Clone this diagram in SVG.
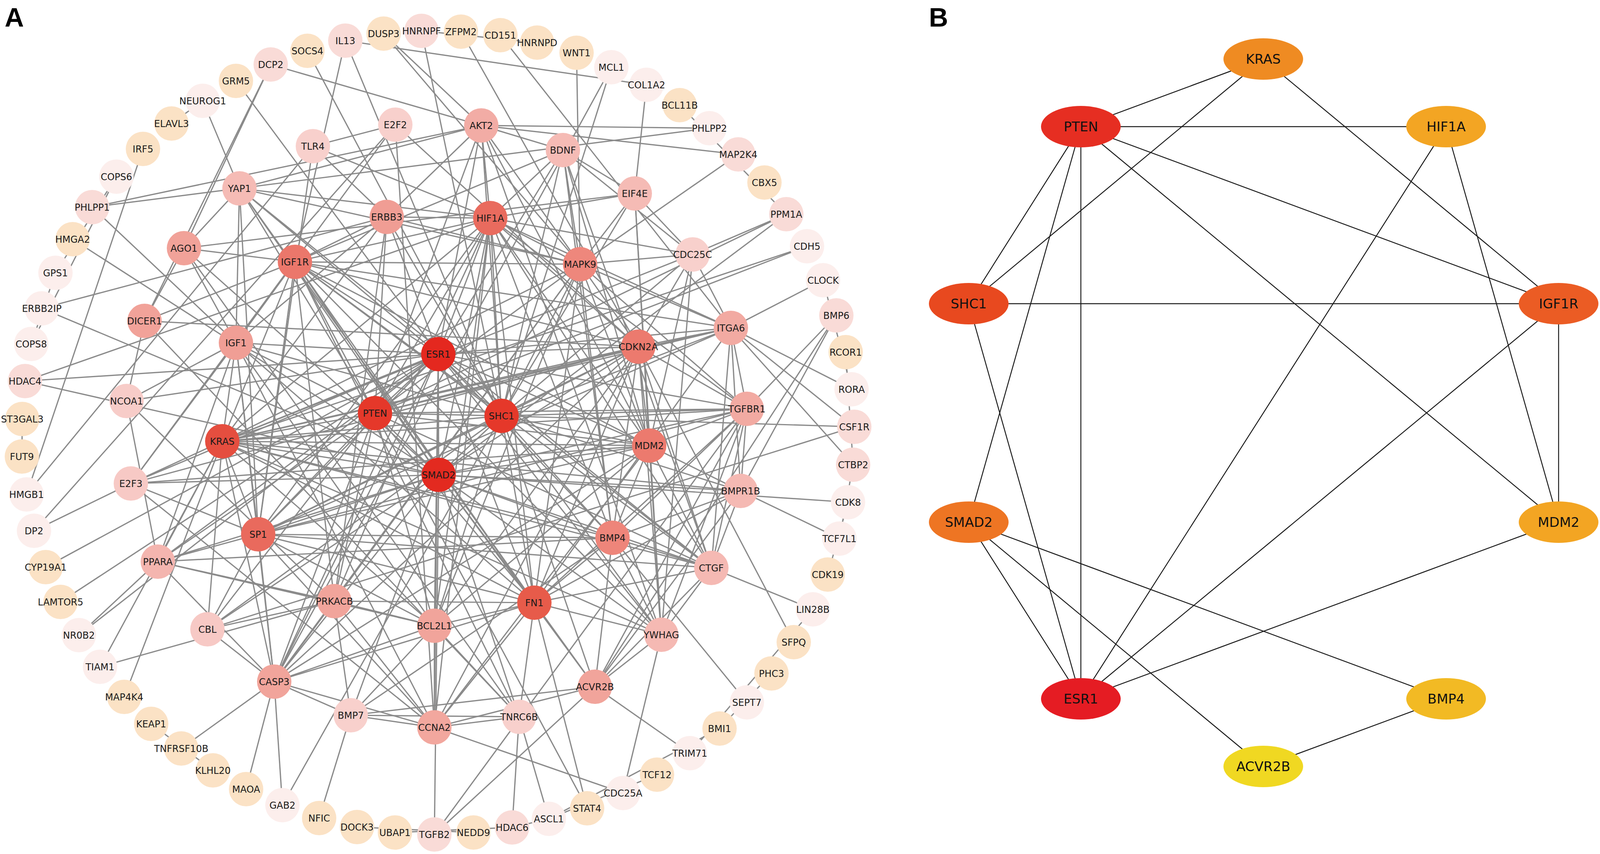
<svg xmlns="http://www.w3.org/2000/svg" width="4317" height="2185" viewBox="0 0 4317 2185">
<style>
.bg{fill:#ffffff}
.ea line{stroke:#8a8a8a;stroke-width:3.2}
.eb line{stroke:#1a1a1a;stroke-width:2.4}
.na text{font-family:"DejaVu Sans",Verdana,sans-serif;font-size:24px;text-anchor:middle;fill:#1a1a1a}
.nb text{font-family:"DejaVu Sans",Verdana,sans-serif;font-size:34px;text-anchor:middle;fill:#111}
.q{fill:#FBE2C5}.v{fill:#FCEEEC}.l{fill:#F9DBD7}
.lab{font-family:"Liberation Sans",Arial,sans-serif;font-weight:bold;font-size:68px;fill:#000}
</style>
<rect class="bg" x="0" y="0" width="4317" height="2185"/>
<text class="lab" x="12" y="68">A</text>
<text class="lab" x="2378" y="68">B</text>
<g id="connectors-A" class="ea">
<line x1="298" y1="452" x2="142" y2="698"/>
<line x1="298" y1="452" x2="80" y2="880"/>
<line x1="142" y1="698" x2="80" y2="880"/>
<line x1="439" y1="316" x2="519" y2="258"/>
<line x1="56" y1="1168" x2="57" y2="1072"/>
<line x1="387" y1="1852" x2="545" y2="1971"/>
<line x1="914" y1="2116" x2="1212" y2="2130"/>
<line x1="1011" y1="2130" x2="1311" y2="2117"/>
<line x1="1311" y1="2117" x2="1405" y2="2095"/>
<line x1="1405" y1="2095" x2="1682" y2="1982"/>
<line x1="2081" y1="1559" x2="1766" y2="1927"/>
<line x1="1842" y1="1864" x2="1975" y2="1723"/>
<line x1="2171" y1="1285" x2="2119" y2="1470"/>
<line x1="2184" y1="1189" x2="2149" y2="1378"/>
<line x1="2165" y1="901" x2="2184" y2="1189"/>
<line x1="2107" y1="717" x2="2180" y2="996"/>
<line x1="1740" y1="269" x2="2013" y2="548"/>
<line x1="1079" y1="79" x2="1375" y2="109"/>
<line x1="366" y1="381" x2="68" y2="1265"/>
<line x1="884" y1="104" x2="1655" y2="217"/>
<line x1="884" y1="104" x2="755" y2="670"/>
<line x1="884" y1="104" x2="1284" y2="1064"/>
<line x1="693" y1="165" x2="471" y2="635"/>
<line x1="693" y1="165" x2="370" y2="821"/>
<line x1="693" y1="165" x2="1232" y2="321"/>
<line x1="604" y1="207" x2="1122" y2="906"/>
<line x1="519" y1="258" x2="613" y2="482"/>
<line x1="236" y1="530" x2="1816" y2="328"/>
<line x1="236" y1="530" x2="1232" y2="321"/>
<line x1="236" y1="530" x2="604" y2="877"/>
<line x1="186" y1="612" x2="1123" y2="1215"/>
<line x1="107" y1="789" x2="990" y2="555"/>
<line x1="107" y1="789" x2="1123" y2="1215"/>
<line x1="64" y1="975" x2="1122" y2="906"/>
<line x1="64" y1="975" x2="1255" y2="558"/>
<line x1="64" y1="975" x2="1123" y2="1215"/>
<line x1="68" y1="1265" x2="801" y2="374"/>
<line x1="87" y1="1358" x2="1012" y2="319"/>
<line x1="87" y1="1358" x2="335" y2="1237"/>
<line x1="117" y1="1451" x2="1122" y2="906"/>
<line x1="155" y1="1540" x2="1122" y2="906"/>
<line x1="202" y1="1625" x2="404" y2="1437"/>
<line x1="202" y1="1625" x2="1122" y2="906"/>
<line x1="256" y1="1706" x2="569" y2="1129"/>
<line x1="256" y1="1706" x2="856" y2="1538"/>
<line x1="318" y1="1783" x2="569" y2="1129"/>
<line x1="464" y1="1915" x2="702" y2="1744"/>
<line x1="630" y1="2019" x2="702" y2="1744"/>
<line x1="723" y1="2060" x2="702" y2="1744"/>
<line x1="723" y1="2060" x2="1284" y2="1064"/>
<line x1="817" y1="2093" x2="898" y2="1830"/>
<line x1="1112" y1="2135" x2="1123" y2="1215"/>
<line x1="1112" y1="2135" x2="1912" y2="1046"/>
<line x1="1112" y1="2135" x2="1523" y2="1757"/>
<line x1="1311" y1="2117" x2="1329" y2="1834"/>
<line x1="1405" y1="2095" x2="1329" y2="1834"/>
<line x1="1405" y1="2095" x2="1842" y2="1864"/>
<line x1="1503" y1="2068" x2="1368" y2="1542"/>
<line x1="1503" y1="2068" x2="960" y2="1057"/>
<line x1="1595" y1="2029" x2="1693" y2="1624"/>
<line x1="1595" y1="2029" x2="1112" y2="1861"/>
<line x1="1766" y1="1927" x2="1523" y2="1757"/>
<line x1="1912" y1="1797" x2="1568" y2="1376"/>
<line x1="2032" y1="1643" x2="1634" y2="887"/>
<line x1="2081" y1="1559" x2="1821" y2="1453"/>
<line x1="2149" y1="1378" x2="1896" y2="1256"/>
<line x1="2171" y1="1285" x2="1123" y2="1215"/>
<line x1="2184" y1="1189" x2="1871" y2="839"/>
<line x1="2187" y1="1092" x2="1284" y2="1064"/>
<line x1="2187" y1="1092" x2="531" y2="1610"/>
<line x1="2187" y1="1092" x2="1871" y2="839"/>
<line x1="2180" y1="996" x2="1871" y2="839"/>
<line x1="2141" y1="807" x2="1912" y2="1046"/>
<line x1="2141" y1="807" x2="1896" y2="1256"/>
<line x1="2141" y1="807" x2="1523" y2="1757"/>
<line x1="2107" y1="717" x2="1871" y2="839"/>
<line x1="2066" y1="630" x2="960" y2="1057"/>
<line x1="2066" y1="630" x2="569" y2="1129"/>
<line x1="2013" y1="548" x2="1773" y2="651"/>
<line x1="2013" y1="548" x2="1123" y2="1215"/>
<line x1="2013" y1="548" x2="960" y2="1057"/>
<line x1="1890" y1="395" x2="1485" y2="676"/>
<line x1="1890" y1="395" x2="1232" y2="321"/>
<line x1="1816" y1="328" x2="1232" y2="321"/>
<line x1="1655" y1="217" x2="1625" y2="495"/>
<line x1="1565" y1="172" x2="702" y2="1744"/>
<line x1="1565" y1="172" x2="1112" y2="1601"/>
<line x1="1476" y1="135" x2="1485" y2="676"/>
<line x1="1281" y1="90" x2="1871" y2="839"/>
<line x1="1180" y1="81" x2="1634" y2="887"/>
<line x1="1079" y1="79" x2="1284" y2="1064"/>
<line x1="982" y1="86" x2="1232" y2="321"/>
<line x1="982" y1="86" x2="1485" y2="676"/>
<line x1="787" y1="130" x2="1284" y2="1064"/>
<line x1="1122" y1="906" x2="960" y2="1057"/>
<line x1="1122" y1="906" x2="1284" y2="1064"/>
<line x1="1122" y1="906" x2="1123" y2="1215"/>
<line x1="1122" y1="906" x2="569" y2="1129"/>
<line x1="1122" y1="906" x2="755" y2="670"/>
<line x1="1122" y1="906" x2="1255" y2="558"/>
<line x1="1122" y1="906" x2="1662" y2="1140"/>
<line x1="1122" y1="906" x2="1368" y2="1542"/>
<line x1="1122" y1="906" x2="661" y2="1367"/>
<line x1="1122" y1="906" x2="1634" y2="887"/>
<line x1="1122" y1="906" x2="1232" y2="321"/>
<line x1="1122" y1="906" x2="324" y2="1026"/>
<line x1="1122" y1="906" x2="335" y2="1237"/>
<line x1="1122" y1="906" x2="404" y2="1437"/>
<line x1="1122" y1="906" x2="1112" y2="1861"/>
<line x1="1122" y1="906" x2="1112" y2="1601"/>
<line x1="1122" y1="906" x2="702" y2="1744"/>
<line x1="1122" y1="906" x2="604" y2="877"/>
<line x1="1122" y1="906" x2="613" y2="482"/>
<line x1="1122" y1="906" x2="990" y2="555"/>
<line x1="1122" y1="906" x2="1821" y2="1453"/>
<line x1="1122" y1="906" x2="1693" y2="1624"/>
<line x1="1122" y1="906" x2="1912" y2="1046"/>
<line x1="1122" y1="906" x2="1568" y2="1376"/>
<line x1="1122" y1="906" x2="856" y2="1538"/>
<line x1="1122" y1="906" x2="1441" y2="384"/>
<line x1="1122" y1="906" x2="1871" y2="839"/>
<line x1="1123" y1="1215" x2="960" y2="1057"/>
<line x1="1123" y1="1215" x2="1284" y2="1064"/>
<line x1="1123" y1="1215" x2="569" y2="1129"/>
<line x1="1123" y1="1215" x2="1368" y2="1542"/>
<line x1="1123" y1="1215" x2="1912" y2="1046"/>
<line x1="1123" y1="1215" x2="1523" y2="1757"/>
<line x1="1123" y1="1215" x2="1568" y2="1376"/>
<line x1="1123" y1="1215" x2="1896" y2="1256"/>
<line x1="1123" y1="1215" x2="661" y2="1367"/>
<line x1="1123" y1="1215" x2="1662" y2="1140"/>
<line x1="1123" y1="1215" x2="613" y2="482"/>
<line x1="1123" y1="1215" x2="1255" y2="558"/>
<line x1="1123" y1="1215" x2="1821" y2="1453"/>
<line x1="1123" y1="1215" x2="898" y2="1830"/>
<line x1="1123" y1="1215" x2="335" y2="1237"/>
<line x1="1123" y1="1215" x2="1634" y2="887"/>
<line x1="1123" y1="1215" x2="1329" y2="1834"/>
<line x1="1123" y1="1215" x2="755" y2="670"/>
<line x1="1123" y1="1215" x2="531" y2="1610"/>
<line x1="1123" y1="1215" x2="404" y2="1437"/>
<line x1="1123" y1="1215" x2="1693" y2="1624"/>
<line x1="1123" y1="1215" x2="471" y2="635"/>
<line x1="1123" y1="1215" x2="702" y2="1744"/>
<line x1="960" y1="1057" x2="1284" y2="1064"/>
<line x1="960" y1="1057" x2="569" y2="1129"/>
<line x1="960" y1="1057" x2="1255" y2="558"/>
<line x1="960" y1="1057" x2="755" y2="670"/>
<line x1="960" y1="1057" x2="1662" y2="1140"/>
<line x1="960" y1="1057" x2="1232" y2="321"/>
<line x1="960" y1="1057" x2="404" y2="1437"/>
<line x1="960" y1="1057" x2="604" y2="877"/>
<line x1="960" y1="1057" x2="1368" y2="1542"/>
<line x1="960" y1="1057" x2="661" y2="1367"/>
<line x1="960" y1="1057" x2="1634" y2="887"/>
<line x1="960" y1="1057" x2="702" y2="1744"/>
<line x1="960" y1="1057" x2="1112" y2="1601"/>
<line x1="960" y1="1057" x2="856" y2="1538"/>
<line x1="960" y1="1057" x2="613" y2="482"/>
<line x1="960" y1="1057" x2="1485" y2="676"/>
<line x1="960" y1="1057" x2="990" y2="555"/>
<line x1="960" y1="1057" x2="531" y2="1610"/>
<line x1="960" y1="1057" x2="1871" y2="839"/>
<line x1="960" y1="1057" x2="1912" y2="1046"/>
<line x1="960" y1="1057" x2="1821" y2="1453"/>
<line x1="1284" y1="1064" x2="569" y2="1129"/>
<line x1="1284" y1="1064" x2="755" y2="670"/>
<line x1="1284" y1="1064" x2="990" y2="555"/>
<line x1="1284" y1="1064" x2="1368" y2="1542"/>
<line x1="1284" y1="1064" x2="1871" y2="839"/>
<line x1="1284" y1="1064" x2="531" y2="1610"/>
<line x1="1284" y1="1064" x2="1485" y2="676"/>
<line x1="1284" y1="1064" x2="1634" y2="887"/>
<line x1="1284" y1="1064" x2="1662" y2="1140"/>
<line x1="1284" y1="1064" x2="1912" y2="1046"/>
<line x1="1284" y1="1064" x2="1625" y2="495"/>
<line x1="1284" y1="1064" x2="1255" y2="558"/>
<line x1="1284" y1="1064" x2="604" y2="877"/>
<line x1="1284" y1="1064" x2="661" y2="1367"/>
<line x1="1284" y1="1064" x2="1693" y2="1624"/>
<line x1="1284" y1="1064" x2="1441" y2="384"/>
<line x1="1284" y1="1064" x2="1773" y2="651"/>
<line x1="1284" y1="1064" x2="1232" y2="321"/>
<line x1="1284" y1="1064" x2="1568" y2="1376"/>
<line x1="1284" y1="1064" x2="1523" y2="1757"/>
<line x1="1284" y1="1064" x2="1896" y2="1256"/>
<line x1="569" y1="1129" x2="755" y2="670"/>
<line x1="569" y1="1129" x2="1368" y2="1542"/>
<line x1="569" y1="1129" x2="1634" y2="887"/>
<line x1="569" y1="1129" x2="1662" y2="1140"/>
<line x1="569" y1="1129" x2="661" y2="1367"/>
<line x1="569" y1="1129" x2="404" y2="1437"/>
<line x1="569" y1="1129" x2="990" y2="555"/>
<line x1="569" y1="1129" x2="1821" y2="1453"/>
<line x1="569" y1="1129" x2="1693" y2="1624"/>
<line x1="569" y1="1129" x2="702" y2="1744"/>
<line x1="569" y1="1129" x2="335" y2="1237"/>
<line x1="569" y1="1129" x2="1255" y2="558"/>
<line x1="569" y1="1129" x2="1112" y2="1601"/>
<line x1="569" y1="1129" x2="604" y2="877"/>
<line x1="569" y1="1129" x2="1896" y2="1256"/>
<line x1="569" y1="1129" x2="1912" y2="1046"/>
<line x1="569" y1="1129" x2="1485" y2="676"/>
<line x1="569" y1="1129" x2="1773" y2="651"/>
<line x1="569" y1="1129" x2="1871" y2="839"/>
<line x1="569" y1="1129" x2="1568" y2="1376"/>
<line x1="569" y1="1129" x2="531" y2="1610"/>
<line x1="1368" y1="1542" x2="1871" y2="839"/>
<line x1="1368" y1="1542" x2="1821" y2="1453"/>
<line x1="1368" y1="1542" x2="1912" y2="1046"/>
<line x1="1368" y1="1542" x2="1568" y2="1376"/>
<line x1="1368" y1="1542" x2="856" y2="1538"/>
<line x1="1368" y1="1542" x2="1112" y2="1601"/>
<line x1="1368" y1="1542" x2="1255" y2="558"/>
<line x1="1368" y1="1542" x2="1634" y2="887"/>
<line x1="1368" y1="1542" x2="1485" y2="676"/>
<line x1="1368" y1="1542" x2="604" y2="877"/>
<line x1="1368" y1="1542" x2="661" y2="1367"/>
<line x1="1368" y1="1542" x2="1329" y2="1834"/>
<line x1="1368" y1="1542" x2="1523" y2="1757"/>
<line x1="1368" y1="1542" x2="613" y2="482"/>
<line x1="1368" y1="1542" x2="755" y2="670"/>
<line x1="1368" y1="1542" x2="1112" y2="1861"/>
<line x1="1368" y1="1542" x2="702" y2="1744"/>
<line x1="1368" y1="1542" x2="1896" y2="1256"/>
<line x1="1368" y1="1542" x2="1693" y2="1624"/>
<line x1="1255" y1="558" x2="755" y2="670"/>
<line x1="1255" y1="558" x2="1662" y2="1140"/>
<line x1="1255" y1="558" x2="1634" y2="887"/>
<line x1="1255" y1="558" x2="1485" y2="676"/>
<line x1="1255" y1="558" x2="990" y2="555"/>
<line x1="1255" y1="558" x2="1625" y2="495"/>
<line x1="1255" y1="558" x2="1232" y2="321"/>
<line x1="1255" y1="558" x2="1441" y2="384"/>
<line x1="1255" y1="558" x2="661" y2="1367"/>
<line x1="1255" y1="558" x2="1821" y2="1453"/>
<line x1="1255" y1="558" x2="1871" y2="839"/>
<line x1="1255" y1="558" x2="1112" y2="1601"/>
<line x1="1255" y1="558" x2="702" y2="1744"/>
<line x1="1255" y1="558" x2="613" y2="482"/>
<line x1="1255" y1="558" x2="1773" y2="651"/>
<line x1="1255" y1="558" x2="1912" y2="1046"/>
<line x1="1255" y1="558" x2="1112" y2="1861"/>
<line x1="1255" y1="558" x2="1568" y2="1376"/>
<line x1="1255" y1="558" x2="801" y2="374"/>
<line x1="661" y1="1367" x2="755" y2="670"/>
<line x1="661" y1="1367" x2="1634" y2="887"/>
<line x1="661" y1="1367" x2="1662" y2="1140"/>
<line x1="661" y1="1367" x2="335" y2="1237"/>
<line x1="661" y1="1367" x2="404" y2="1437"/>
<line x1="661" y1="1367" x2="604" y2="877"/>
<line x1="661" y1="1367" x2="702" y2="1744"/>
<line x1="661" y1="1367" x2="1112" y2="1861"/>
<line x1="661" y1="1367" x2="1912" y2="1046"/>
<line x1="661" y1="1367" x2="1821" y2="1453"/>
<line x1="661" y1="1367" x2="1568" y2="1376"/>
<line x1="661" y1="1367" x2="1871" y2="839"/>
<line x1="661" y1="1367" x2="1112" y2="1601"/>
<line x1="661" y1="1367" x2="531" y2="1610"/>
<line x1="661" y1="1367" x2="613" y2="482"/>
<line x1="661" y1="1367" x2="801" y2="374"/>
<line x1="755" y1="670" x2="604" y2="877"/>
<line x1="755" y1="670" x2="990" y2="555"/>
<line x1="755" y1="670" x2="1662" y2="1140"/>
<line x1="755" y1="670" x2="1634" y2="887"/>
<line x1="755" y1="670" x2="1485" y2="676"/>
<line x1="755" y1="670" x2="1871" y2="839"/>
<line x1="755" y1="670" x2="856" y2="1538"/>
<line x1="755" y1="670" x2="1693" y2="1624"/>
<line x1="755" y1="670" x2="1821" y2="1453"/>
<line x1="755" y1="670" x2="1329" y2="1834"/>
<line x1="755" y1="670" x2="471" y2="635"/>
<line x1="755" y1="670" x2="370" y2="821"/>
<line x1="755" y1="670" x2="1441" y2="384"/>
<line x1="1634" y1="887" x2="1662" y2="1140"/>
<line x1="1634" y1="887" x2="335" y2="1237"/>
<line x1="1634" y1="887" x2="1012" y2="319"/>
<line x1="1634" y1="887" x2="1112" y2="1861"/>
<line x1="1634" y1="887" x2="1773" y2="651"/>
<line x1="1634" y1="887" x2="1485" y2="676"/>
<line x1="1634" y1="887" x2="1112" y2="1601"/>
<line x1="1634" y1="887" x2="702" y2="1744"/>
<line x1="1634" y1="887" x2="1912" y2="1046"/>
<line x1="1634" y1="887" x2="1871" y2="839"/>
<line x1="1634" y1="887" x2="1693" y2="1624"/>
<line x1="1634" y1="887" x2="370" y2="821"/>
<line x1="1634" y1="887" x2="1568" y2="1376"/>
<line x1="1634" y1="887" x2="1821" y2="1453"/>
<line x1="1662" y1="1140" x2="1485" y2="676"/>
<line x1="1662" y1="1140" x2="1112" y2="1861"/>
<line x1="1662" y1="1140" x2="1112" y2="1601"/>
<line x1="1662" y1="1140" x2="702" y2="1744"/>
<line x1="1662" y1="1140" x2="1693" y2="1624"/>
<line x1="1662" y1="1140" x2="1821" y2="1453"/>
<line x1="1662" y1="1140" x2="1568" y2="1376"/>
<line x1="1662" y1="1140" x2="1625" y2="495"/>
<line x1="1662" y1="1140" x2="1232" y2="321"/>
<line x1="1662" y1="1140" x2="1441" y2="384"/>
<line x1="1662" y1="1140" x2="1912" y2="1046"/>
<line x1="1662" y1="1140" x2="1896" y2="1256"/>
<line x1="1662" y1="1140" x2="335" y2="1237"/>
<line x1="1662" y1="1140" x2="1773" y2="651"/>
<line x1="1485" y1="676" x2="1625" y2="495"/>
<line x1="1485" y1="676" x2="1441" y2="384"/>
<line x1="1485" y1="676" x2="1232" y2="321"/>
<line x1="1485" y1="676" x2="1871" y2="839"/>
<line x1="1485" y1="676" x2="1773" y2="651"/>
<line x1="1485" y1="676" x2="1912" y2="1046"/>
<line x1="1485" y1="676" x2="702" y2="1744"/>
<line x1="1485" y1="676" x2="1112" y2="1601"/>
<line x1="1485" y1="676" x2="613" y2="482"/>
<line x1="1485" y1="676" x2="990" y2="555"/>
<line x1="1485" y1="676" x2="1568" y2="1376"/>
<line x1="1485" y1="676" x2="856" y2="1538"/>
<line x1="1568" y1="1376" x2="1896" y2="1256"/>
<line x1="1568" y1="1376" x2="1523" y2="1757"/>
<line x1="1568" y1="1376" x2="1821" y2="1453"/>
<line x1="1568" y1="1376" x2="1693" y2="1624"/>
<line x1="1568" y1="1376" x2="898" y2="1830"/>
<line x1="1568" y1="1376" x2="1912" y2="1046"/>
<line x1="1568" y1="1376" x2="1441" y2="384"/>
<line x1="1568" y1="1376" x2="404" y2="1437"/>
<line x1="1523" y1="1757" x2="1896" y2="1256"/>
<line x1="1523" y1="1757" x2="898" y2="1830"/>
<line x1="1523" y1="1757" x2="1912" y2="1046"/>
<line x1="1523" y1="1757" x2="1693" y2="1624"/>
<line x1="1523" y1="1757" x2="1821" y2="1453"/>
<line x1="1523" y1="1757" x2="1112" y2="1861"/>
<line x1="1912" y1="1046" x2="1896" y2="1256"/>
<line x1="1912" y1="1046" x2="1821" y2="1453"/>
<line x1="1912" y1="1046" x2="1693" y2="1624"/>
<line x1="1912" y1="1046" x2="1871" y2="839"/>
<line x1="1896" y1="1256" x2="1821" y2="1453"/>
<line x1="1896" y1="1256" x2="1871" y2="839"/>
<line x1="1821" y1="1453" x2="1871" y2="839"/>
<line x1="1821" y1="1453" x2="1693" y2="1624"/>
<line x1="1821" y1="1453" x2="1441" y2="384"/>
<line x1="1693" y1="1624" x2="1773" y2="651"/>
<line x1="1693" y1="1624" x2="1232" y2="321"/>
<line x1="1693" y1="1624" x2="1625" y2="495"/>
<line x1="1871" y1="839" x2="1773" y2="651"/>
<line x1="1232" y1="321" x2="1441" y2="384"/>
<line x1="1232" y1="321" x2="613" y2="482"/>
<line x1="1232" y1="321" x2="990" y2="555"/>
<line x1="1441" y1="384" x2="1625" y2="495"/>
<line x1="1441" y1="384" x2="1773" y2="651"/>
<line x1="1625" y1="495" x2="471" y2="635"/>
<line x1="1625" y1="495" x2="1773" y2="651"/>
<line x1="613" y1="482" x2="471" y2="635"/>
<line x1="613" y1="482" x2="1821" y2="1453"/>
<line x1="613" y1="482" x2="604" y2="877"/>
<line x1="990" y1="555" x2="604" y2="877"/>
<line x1="990" y1="555" x2="801" y2="374"/>
<line x1="990" y1="555" x2="856" y2="1538"/>
<line x1="471" y1="635" x2="370" y2="821"/>
<line x1="471" y1="635" x2="1329" y2="1834"/>
<line x1="471" y1="635" x2="604" y2="877"/>
<line x1="370" y1="821" x2="1329" y2="1834"/>
<line x1="370" y1="821" x2="324" y2="1026"/>
<line x1="604" y1="877" x2="324" y2="1026"/>
<line x1="604" y1="877" x2="404" y2="1437"/>
<line x1="604" y1="877" x2="1112" y2="1601"/>
<line x1="604" y1="877" x2="702" y2="1744"/>
<line x1="604" y1="877" x2="1112" y2="1861"/>
<line x1="604" y1="877" x2="335" y2="1237"/>
<line x1="324" y1="1026" x2="404" y2="1437"/>
<line x1="324" y1="1026" x2="856" y2="1538"/>
<line x1="335" y1="1237" x2="1112" y2="1861"/>
<line x1="335" y1="1237" x2="1012" y2="319"/>
<line x1="1012" y1="319" x2="1112" y2="1861"/>
<line x1="1012" y1="319" x2="801" y2="374"/>
<line x1="404" y1="1437" x2="702" y2="1744"/>
<line x1="404" y1="1437" x2="856" y2="1538"/>
<line x1="404" y1="1437" x2="1112" y2="1601"/>
<line x1="856" y1="1538" x2="1112" y2="1601"/>
<line x1="856" y1="1538" x2="702" y2="1744"/>
<line x1="856" y1="1538" x2="898" y2="1830"/>
<line x1="856" y1="1538" x2="1112" y2="1861"/>
<line x1="856" y1="1538" x2="531" y2="1610"/>
<line x1="1112" y1="1601" x2="702" y2="1744"/>
<line x1="1112" y1="1601" x2="1112" y2="1861"/>
<line x1="1112" y1="1601" x2="1329" y2="1834"/>
<line x1="1112" y1="1601" x2="898" y2="1830"/>
<line x1="531" y1="1610" x2="702" y2="1744"/>
<line x1="702" y1="1744" x2="898" y2="1830"/>
<line x1="702" y1="1744" x2="1112" y2="1861"/>
<line x1="898" y1="1830" x2="1112" y2="1861"/>
<line x1="898" y1="1830" x2="1329" y2="1834"/>
<line x1="1112" y1="1861" x2="1329" y2="1834"/>
</g>
<g class="na">
<g id="IL13"><circle class="l" cx="884" cy="104" r="44"/><text x="884" y="113">IL13</text></g>
<g id="DUSP3"><circle class="q" cx="982" cy="86" r="44"/><text x="982" y="95">DUSP3</text></g>
<g id="HNRNPF"><circle class="l" cx="1079" cy="79" r="44"/><text x="1079" y="88">HNRNPF</text></g>
<g id="ZFPM2"><circle class="q" cx="1180" cy="81" r="44"/><text x="1180" y="90">ZFPM2</text></g>
<g id="CD151"><circle class="q" cx="1281" cy="90" r="44"/><text x="1281" y="99">CD151</text></g>
<g id="HNRNPD"><circle class="q" cx="1375" cy="109" r="44"/><text x="1375" y="118">HNRNPD</text></g>
<g id="WNT1"><circle class="q" cx="1476" cy="135" r="44"/><text x="1476" y="144">WNT1</text></g>
<g id="MCL1"><circle class="v" cx="1565" cy="172" r="44"/><text x="1565" y="181">MCL1</text></g>
<g id="COL1A2"><circle class="v" cx="1655" cy="217" r="44"/><text x="1655" y="226">COL1A2</text></g>
<g id="BCL11B"><circle class="q" cx="1740" cy="269" r="44"/><text x="1740" y="278">BCL11B</text></g>
<g id="PHLPP2"><circle class="v" cx="1816" cy="328" r="44"/><text x="1816" y="337">PHLPP2</text></g>
<g id="MAP2K4"><circle class="l" cx="1890" cy="395" r="44"/><text x="1890" y="404">MAP2K4</text></g>
<g id="CBX5"><circle class="q" cx="1957" cy="467" r="44"/><text x="1957" y="476">CBX5</text></g>
<g id="PPM1A"><circle class="l" cx="2013" cy="548" r="44"/><text x="2013" y="557">PPM1A</text></g>
<g id="CDH5"><circle class="v" cx="2066" cy="630" r="44"/><text x="2066" y="639">CDH5</text></g>
<g id="CLOCK"><circle class="v" cx="2107" cy="717" r="44"/><text x="2107" y="726">CLOCK</text></g>
<g id="BMP6"><circle class="l" cx="2141" cy="807" r="44"/><text x="2141" y="816">BMP6</text></g>
<g id="RCOR1"><circle class="q" cx="2165" cy="901" r="44"/><text x="2165" y="910">RCOR1</text></g>
<g id="RORA"><circle class="v" cx="2180" cy="996" r="44"/><text x="2180" y="1005">RORA</text></g>
<g id="CSF1R"><circle class="l" cx="2187" cy="1092" r="44"/><text x="2187" y="1101">CSF1R</text></g>
<g id="CTBP2"><circle class="l" cx="2184" cy="1189" r="44"/><text x="2184" y="1198">CTBP2</text></g>
<g id="CDK8"><circle class="v" cx="2171" cy="1285" r="44"/><text x="2171" y="1294">CDK8</text></g>
<g id="TCF7L1"><circle class="v" cx="2149" cy="1378" r="44"/><text x="2149" y="1387">TCF7L1</text></g>
<g id="CDK19"><circle class="q" cx="2119" cy="1470" r="44"/><text x="2119" y="1479">CDK19</text></g>
<g id="LIN28B"><circle class="v" cx="2081" cy="1559" r="44"/><text x="2081" y="1568">LIN28B</text></g>
<g id="SFPQ"><circle class="q" cx="2032" cy="1643" r="44"/><text x="2032" y="1652">SFPQ</text></g>
<g id="PHC3"><circle class="q" cx="1975" cy="1723" r="44"/><text x="1975" y="1732">PHC3</text></g>
<g id="SEPT7"><circle class="v" cx="1912" cy="1797" r="44"/><text x="1912" y="1806">SEPT7</text></g>
<g id="BMI1"><circle class="q" cx="1842" cy="1864" r="44"/><text x="1842" y="1873">BMI1</text></g>
<g id="TRIM71"><circle class="v" cx="1766" cy="1927" r="44"/><text x="1766" y="1936">TRIM71</text></g>
<g id="TCF12"><circle class="q" cx="1682" cy="1982" r="44"/><text x="1682" y="1991">TCF12</text></g>
<g id="CDC25A"><circle class="v" cx="1595" cy="2029" r="44"/><text x="1595" y="2038">CDC25A</text></g>
<g id="STAT4"><circle class="q" cx="1503" cy="2068" r="44"/><text x="1503" y="2077">STAT4</text></g>
<g id="ASCL1"><circle class="v" cx="1405" cy="2095" r="44"/><text x="1405" y="2104">ASCL1</text></g>
<g id="HDAC6"><circle class="l" cx="1311" cy="2117" r="44"/><text x="1311" y="2126">HDAC6</text></g>
<g id="NEDD9"><circle class="q" cx="1212" cy="2130" r="44"/><text x="1212" y="2139">NEDD9</text></g>
<g id="TGFB2"><circle class="l" cx="1112" cy="2135" r="44"/><text x="1112" y="2144">TGFB2</text></g>
<g id="UBAP1"><circle class="q" cx="1011" cy="2130" r="44"/><text x="1011" y="2139">UBAP1</text></g>
<g id="DOCK3"><circle class="q" cx="914" cy="2116" r="44"/><text x="914" y="2125">DOCK3</text></g>
<g id="NFIC"><circle class="q" cx="817" cy="2093" r="44"/><text x="817" y="2102">NFIC</text></g>
<g id="GAB2"><circle class="v" cx="723" cy="2060" r="44"/><text x="723" y="2069">GAB2</text></g>
<g id="MAOA"><circle class="q" cx="630" cy="2019" r="44"/><text x="630" y="2028">MAOA</text></g>
<g id="KLHL20"><circle class="q" cx="545" cy="1971" r="44"/><text x="545" y="1980">KLHL20</text></g>
<g id="TNFRSF10B"><circle class="q" cx="464" cy="1915" r="44"/><text x="464" y="1924">TNFRSF10B</text></g>
<g id="KEAP1"><circle class="q" cx="387" cy="1852" r="44"/><text x="387" y="1861">KEAP1</text></g>
<g id="MAP4K4"><circle class="q" cx="318" cy="1783" r="44"/><text x="318" y="1792">MAP4K4</text></g>
<g id="TIAM1"><circle class="v" cx="256" cy="1706" r="44"/><text x="256" y="1715">TIAM1</text></g>
<g id="NR0B2"><circle class="v" cx="202" cy="1625" r="44"/><text x="202" y="1634">NR0B2</text></g>
<g id="LAMTOR5"><circle class="q" cx="155" cy="1540" r="44"/><text x="155" y="1549">LAMTOR5</text></g>
<g id="CYP19A1"><circle class="q" cx="117" cy="1451" r="44"/><text x="117" y="1460">CYP19A1</text></g>
<g id="DP2"><circle class="v" cx="87" cy="1358" r="44"/><text x="87" y="1367">DP2</text></g>
<g id="HMGB1"><circle class="v" cx="68" cy="1265" r="44"/><text x="68" y="1274">HMGB1</text></g>
<g id="FUT9"><circle class="q" cx="56" cy="1168" r="44"/><text x="56" y="1177">FUT9</text></g>
<g id="ST3GAL3"><circle class="q" cx="57" cy="1072" r="44"/><text x="57" y="1081">ST3GAL3</text></g>
<g id="HDAC4"><circle class="l" cx="64" cy="975" r="44"/><text x="64" y="984">HDAC4</text></g>
<g id="COPS8"><circle class="v" cx="80" cy="880" r="44"/><text x="80" y="889">COPS8</text></g>
<g id="ERBB2IP"><circle class="v" cx="107" cy="789" r="44"/><text x="107" y="798">ERBB2IP</text></g>
<g id="GPS1"><circle class="v" cx="142" cy="698" r="44"/><text x="142" y="707">GPS1</text></g>
<g id="HMGA2"><circle class="q" cx="186" cy="612" r="44"/><text x="186" y="621">HMGA2</text></g>
<g id="PHLPP1"><circle class="l" cx="236" cy="530" r="44"/><text x="236" y="539">PHLPP1</text></g>
<g id="COPS6"><circle class="v" cx="298" cy="452" r="44"/><text x="298" y="461">COPS6</text></g>
<g id="IRF5"><circle class="q" cx="366" cy="381" r="44"/><text x="366" y="390">IRF5</text></g>
<g id="ELAVL3"><circle class="q" cx="439" cy="316" r="44"/><text x="439" y="325">ELAVL3</text></g>
<g id="NEUROG1"><circle class="v" cx="519" cy="258" r="44"/><text x="519" y="267">NEUROG1</text></g>
<g id="GRM5"><circle class="q" cx="604" cy="207" r="44"/><text x="604" y="216">GRM5</text></g>
<g id="DCP2"><circle class="l" cx="693" cy="165" r="44"/><text x="693" y="174">DCP2</text></g>
<g id="SOCS4"><circle class="q" cx="787" cy="130" r="44"/><text x="787" y="139">SOCS4</text></g>
<g id="TLR4"><circle fill="#F8D0CC" cx="801" cy="374" r="44"/><text x="801" y="383">TLR4</text></g>
<g id="E2F2"><circle fill="#F8D0CC" cx="1012" cy="319" r="44"/><text x="1012" y="328">E2F2</text></g>
<g id="AKT2"><circle fill="#F2ACA5" cx="1232" cy="321" r="44"/><text x="1232" y="330">AKT2</text></g>
<g id="BDNF"><circle fill="#F5BBB5" cx="1441" cy="384" r="44"/><text x="1441" y="393">BDNF</text></g>
<g id="EIF4E"><circle fill="#F5BBB5" cx="1625" cy="495" r="44"/><text x="1625" y="504">EIF4E</text></g>
<g id="YAP1"><circle fill="#F5BBB5" cx="613" cy="482" r="44"/><text x="613" y="491">YAP1</text></g>
<g id="ERBB3"><circle fill="#F09D94" cx="990" cy="555" r="44"/><text x="990" y="564">ERBB3</text></g>
<g id="HIF1A"><circle fill="#E96B5E" cx="1255" cy="558" r="44"/><text x="1255" y="567">HIF1A</text></g>
<g id="AGO1"><circle fill="#F1A299" cx="471" cy="635" r="44"/><text x="471" y="644">AGO1</text></g>
<g id="IGF1R"><circle fill="#EB776B" cx="755" cy="670" r="44"/><text x="755" y="679">IGF1R</text></g>
<g id="MAPK9"><circle fill="#EE877C" cx="1485" cy="676" r="44"/><text x="1485" y="685">MAPK9</text></g>
<g id="CDC25C"><circle fill="#F8D0CC" cx="1773" cy="651" r="44"/><text x="1773" y="660">CDC25C</text></g>
<g id="DICER1"><circle fill="#F1A299" cx="370" cy="821" r="44"/><text x="370" y="830">DICER1</text></g>
<g id="IGF1"><circle fill="#F09E95" cx="604" cy="877" r="44"/><text x="604" y="886">IGF1</text></g>
<g id="ESR1"><circle fill="#E4281F" cx="1122" cy="906" r="44"/><text x="1122" y="915">ESR1</text></g>
<g id="CDKN2A"><circle fill="#EC7A6E" cx="1634" cy="887" r="44"/><text x="1634" y="896">CDKN2A</text></g>
<g id="ITGA6"><circle fill="#F2AAA2" cx="1871" cy="839" r="44"/><text x="1871" y="848">ITGA6</text></g>
<g id="NCOA1"><circle fill="#F7CCC8" cx="324" cy="1026" r="44"/><text x="324" y="1035">NCOA1</text></g>
<g id="PTEN"><circle fill="#E5382A" cx="960" cy="1057" r="44"/><text x="960" y="1066">PTEN</text></g>
<g id="SHC1"><circle fill="#E5382A" cx="1284" cy="1064" r="44"/><text x="1284" y="1073">SHC1</text></g>
<g id="TGFBR1"><circle fill="#F2AAA2" cx="1912" cy="1046" r="44"/><text x="1912" y="1055">TGFBR1</text></g>
<g id="KRAS"><circle fill="#E54E3F" cx="569" cy="1129" r="44"/><text x="569" y="1138">KRAS</text></g>
<g id="MDM2"><circle fill="#EC7A6E" cx="1662" cy="1140" r="44"/><text x="1662" y="1149">MDM2</text></g>
<g id="SMAD2"><circle fill="#E32A20" cx="1123" cy="1215" r="44"/><text x="1123" y="1224">SMAD2</text></g>
<g id="E2F3"><circle fill="#F7C9C5" cx="335" cy="1237" r="44"/><text x="335" y="1246">E2F3</text></g>
<g id="BMPR1B"><circle fill="#F5B9B3" cx="1896" cy="1256" r="44"/><text x="1896" y="1265">BMPR1B</text></g>
<g id="SP1"><circle fill="#E96A5D" cx="661" cy="1367" r="44"/><text x="661" y="1376">SP1</text></g>
<g id="BMP4"><circle fill="#EE857A" cx="1568" cy="1376" r="44"/><text x="1568" y="1385">BMP4</text></g>
<g id="PPARA"><circle fill="#F4B5AF" cx="404" cy="1437" r="44"/><text x="404" y="1446">PPARA</text></g>
<g id="CTGF"><circle fill="#F5B9B3" cx="1821" cy="1453" r="44"/><text x="1821" y="1462">CTGF</text></g>
<g id="PRKACB"><circle fill="#F1A49B" cx="856" cy="1538" r="44"/><text x="856" y="1547">PRKACB</text></g>
<g id="FN1"><circle fill="#E75B4A" cx="1368" cy="1542" r="44"/><text x="1368" y="1551">FN1</text></g>
<g id="BCL2L1"><circle fill="#F1A49B" cx="1112" cy="1601" r="44"/><text x="1112" y="1610">BCL2L1</text></g>
<g id="CBL"><circle fill="#F7C9C5" cx="531" cy="1610" r="44"/><text x="531" y="1619">CBL</text></g>
<g id="YWHAG"><circle fill="#F5B9B3" cx="1693" cy="1624" r="44"/><text x="1693" y="1633">YWHAG</text></g>
<g id="CASP3"><circle fill="#F1A49B" cx="702" cy="1744" r="44"/><text x="702" y="1753">CASP3</text></g>
<g id="ACVR2B"><circle fill="#F1A49B" cx="1523" cy="1757" r="44"/><text x="1523" y="1766">ACVR2B</text></g>
<g id="BMP7"><circle fill="#F8D0CC" cx="898" cy="1830" r="44"/><text x="898" y="1839">BMP7</text></g>
<g id="CCNA2"><circle fill="#F2A79E" cx="1112" cy="1861" r="44"/><text x="1112" y="1870">CCNA2</text></g>
<g id="TNRC6B"><circle fill="#F8D0CC" cx="1329" cy="1834" r="44"/><text x="1329" y="1843">TNRC6B</text></g>
</g>
<g id="connectors-B" class="eb">
<line x1="3234" y1="151" x2="2767" y2="324"/>
<line x1="3234" y1="151" x2="2480" y2="777"/>
<line x1="3234" y1="151" x2="3990" y2="777"/>
<line x1="2767" y1="324" x2="3702" y2="324"/>
<line x1="2767" y1="324" x2="3990" y2="777"/>
<line x1="2767" y1="324" x2="3990" y2="1336"/>
<line x1="2767" y1="324" x2="2480" y2="777"/>
<line x1="2767" y1="324" x2="2480" y2="1336"/>
<line x1="2767" y1="324" x2="2767" y2="1788"/>
<line x1="3702" y1="324" x2="2767" y2="1788"/>
<line x1="3702" y1="324" x2="3990" y2="1336"/>
<line x1="2480" y1="777" x2="3990" y2="777"/>
<line x1="2480" y1="777" x2="2767" y2="1788"/>
<line x1="3990" y1="777" x2="2767" y2="1788"/>
<line x1="3990" y1="777" x2="3990" y2="1336"/>
<line x1="2480" y1="1336" x2="2767" y2="1788"/>
<line x1="2480" y1="1336" x2="3234" y2="1961"/>
<line x1="2480" y1="1336" x2="3702" y2="1788"/>
<line x1="3990" y1="1336" x2="2767" y2="1788"/>
<line x1="3702" y1="1788" x2="3234" y2="1961"/>
</g>
<g class="nb">
<g id="B-KRAS"><ellipse cx="3234" cy="151" rx="102" ry="53" fill="#EF8B22"/><text x="3234" y="163">KRAS</text></g>
<g id="B-PTEN"><ellipse cx="2767" cy="324" rx="102" ry="53" fill="#E62E22"/><text x="2767" y="336">PTEN</text></g>
<g id="B-HIF1A"><ellipse cx="3702" cy="324" rx="102" ry="53" fill="#F3A523"/><text x="3702" y="336">HIF1A</text></g>
<g id="B-SHC1"><ellipse cx="2480" cy="777" rx="102" ry="53" fill="#E8491F"/><text x="2480" y="789">SHC1</text></g>
<g id="B-IGF1R"><ellipse cx="3990" cy="777" rx="102" ry="53" fill="#EB5C24"/><text x="3990" y="789">IGF1R</text></g>
<g id="B-SMAD2"><ellipse cx="2480" cy="1336" rx="102" ry="53" fill="#EE7523"/><text x="2480" y="1348">SMAD2</text></g>
<g id="B-MDM2"><ellipse cx="3990" cy="1336" rx="102" ry="53" fill="#F3A523"/><text x="3990" y="1348">MDM2</text></g>
<g id="B-ESR1"><ellipse cx="2767" cy="1788" rx="102" ry="53" fill="#E51C23"/><text x="2767" y="1800">ESR1</text></g>
<g id="B-BMP4"><ellipse cx="3702" cy="1788" rx="102" ry="53" fill="#F2BA24"/><text x="3702" y="1800">BMP4</text></g>
<g id="B-ACVR2B"><ellipse cx="3234" cy="1961" rx="102" ry="53" fill="#F0D822"/><text x="3234" y="1973">ACVR2B</text></g>
</g>
</svg>
